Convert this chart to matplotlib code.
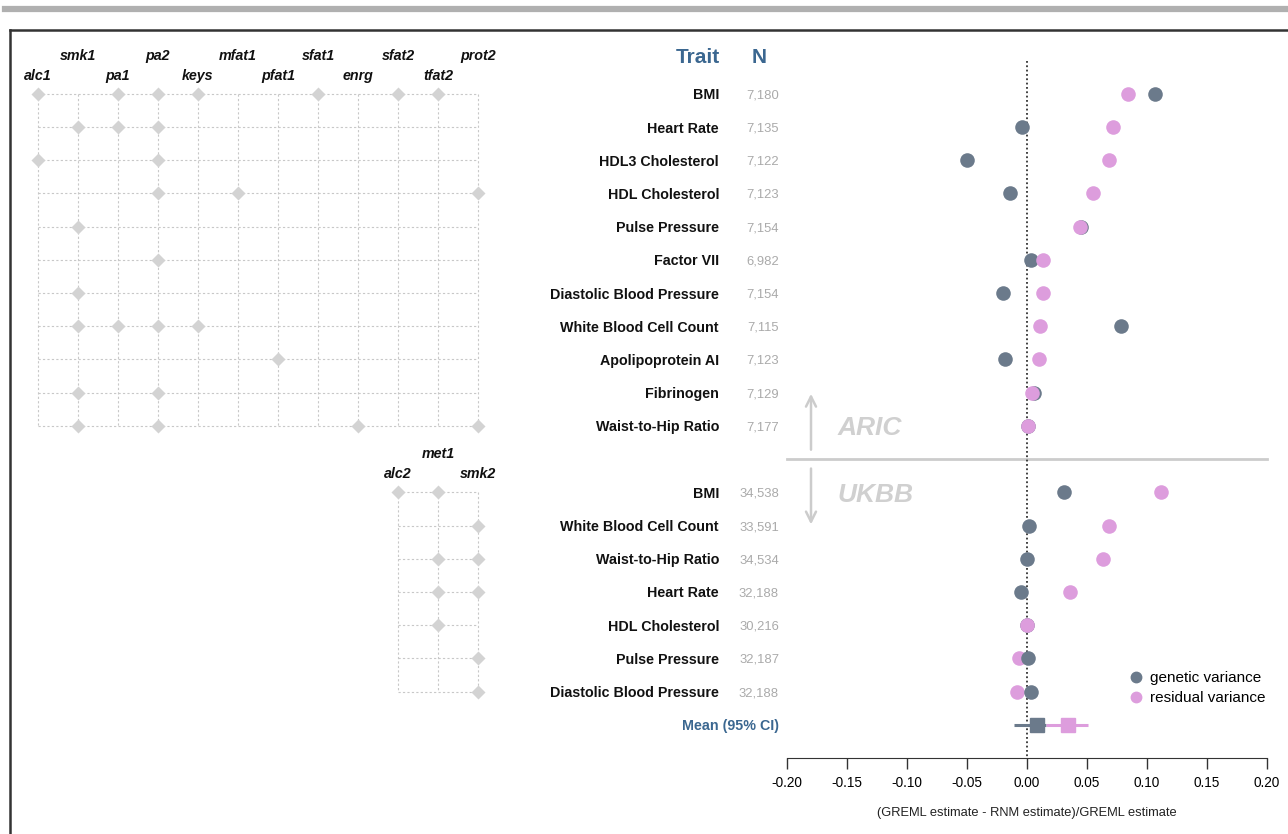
import matplotlib.pyplot as plt
import numpy as np
from matplotlib.lines import Line2D
from matplotlib.transforms import blended_transform_factory
import matplotlib.ticker as mticker

plt.rcParams['font.family'] = ['Liberation Sans', 'DejaVu Sans']
plt.rcParams['axes.unicode_minus'] = False

# ARIC cohort
aric_traits = ['BMI', 'Heart Rate', 'HDL3 Cholesterol', 'HDL Cholesterol', 'Pulse Pressure',
               'Factor VII', 'Diastolic Blood Pressure', 'White Blood Cell Count',
               'Apolipoprotein AI', 'Fibrinogen', 'Waist-to-Hip Ratio']
aric_n = ['7,180', '7,135', '7,122', '7,123', '7,154', '6,982', '7,154', '7,115', '7,123', '7,129', '7,177']
aric_gen = [0.107, -0.004, -0.050, -0.014, 0.045, 0.003, -0.020, 0.078, -0.018, 0.006, 0.001]
aric_res = [0.084, 0.072, 0.068, 0.055, 0.044, 0.013, 0.013, 0.011, 0.010, 0.004, 0.001]

# UKBB cohort
ukbb_traits = ['BMI', 'White Blood Cell Count', 'Waist-to-Hip Ratio', 'Heart Rate',
               'HDL Cholesterol', 'Pulse Pressure', 'Diastolic Blood Pressure']
ukbb_n = ['34,538', '33,591', '34,534', '32,188', '30,216', '32,187', '32,188']
ukbb_gen = [0.031, 0.002, 0.000, -0.005, 0.000, 0.001, 0.003]
ukbb_res = [0.112, 0.068, 0.063, 0.036, 0.000, -0.007, -0.008]
ukbb_res_top = [False, False, False, False, True, False, False]

# pooled mean and 95% CI
mean_gen, mean_gen_ci = 0.008, (-0.011, 0.016)
mean_res, mean_res_ci = 0.034, (0.016, 0.051)

x_ticks = [-0.20, -0.15, -0.10, -0.05, 0.00, 0.05, 0.10, 0.15, 0.20]

# environment interaction covariates
aric_cols = ['alc1', 'smk1', 'pa1', 'pa2', 'keys', 'mfat1', 'pfat1', 'sfat1', 'enrg', 'sfat2', 'tfat2', 'prot2']
aric_sel = [['alc1', 'pa1', 'pa2', 'keys', 'sfat1', 'sfat2', 'tfat2'],
            ['smk1', 'pa1', 'pa2'],
            ['alc1', 'pa2'],
            ['pa2', 'mfat1', 'prot2'],
            ['smk1'],
            ['pa2'],
            ['smk1'],
            ['smk1', 'pa1', 'pa2', 'keys'],
            ['pfat1'],
            ['smk1', 'pa2'],
            ['smk1', 'pa2', 'enrg', 'prot2']]
ukbb_cols = ['alc2', 'met1', 'smk2']
ukbb_sel = [['alc2', 'met1'], ['smk2'], ['met1', 'smk2'], ['met1', 'smk2'],
            ['met1'], ['smk2'], ['smk2']]

gen_col = '#6b7a8b'
res_col = '#dd9ddd'
blue = '#3b6790'
light = '#d3d3d3'

W, H = 1288, 834
fig = plt.figure(figsize=(W / 100, H / 100), dpi=100)

aric_y = np.arange(len(aric_traits))
ukbb_y = np.arange(len(ukbb_traits)) + len(aric_traits) + 1
mean_y = ukbb_y[-1] + 1
ylim = (20.0, -1.5)

top_px, bot_px = 44, 758
ax = fig.add_axes([787 / W, 1 - bot_px / H, 480 / W, (bot_px - top_px) / H])
ax.set_xlim(-0.2, 0.2)
ax.set_ylim(*ylim)
for s in ['top', 'left', 'right']:
    ax.spines[s].set_visible(False)
ax.spines['bottom'].set_color('#333333')
ax.set_yticks([])
ax.set_xticks(x_ticks)
ax.xaxis.set_major_formatter(mticker.FuncFormatter(lambda v, p: f'{round(v, 2) + 0.0:.2f}'))
ax.tick_params(axis='x', length=8, width=1, color='#333333', labelsize=9.8, pad=5)
ax.set_xlabel('(GREML estimate - RNM estimate)/GREML estimate', fontsize=9.3, labelpad=12, color='#222222')

ax.plot([0, 0], [-1.0, 20.0], ls=(0, (1, 1.4)), color='#333333', lw=1.3, zorder=1, clip_on=False)

ax.scatter(aric_gen, aric_y, s=110, color=gen_col, zorder=3, clip_on=False, linewidths=0)
ax.scatter(aric_res, aric_y, s=110, color=res_col, zorder=4, clip_on=False, linewidths=0)
ax.scatter(ukbb_gen, ukbb_y, s=110, color=gen_col, zorder=4, clip_on=False, linewidths=0)
for x, y, top in zip(ukbb_res, ukbb_y, ukbb_res_top):
    ax.scatter([x], [y], s=110, color=res_col, zorder=5 if top else 3, clip_on=False, linewidths=0)

ax.plot(mean_gen_ci, [mean_y, mean_y], color=gen_col, lw=2.2, zorder=3, solid_capstyle='butt')
ax.plot(mean_res_ci, [mean_y, mean_y], color=res_col, lw=2.2, zorder=3, solid_capstyle='butt')
ax.plot([mean_gen], [mean_y], 's', ms=10.5, color=gen_col, zorder=4)
ax.plot([mean_res], [mean_y], 's', ms=10.5, color=res_col, zorder=4)

# cohort divider
sep_y = len(aric_traits)
ax.plot([-0.2, 0.2], [sep_y, sep_y], color='#cccccc', lw=2, clip_on=False, zorder=0)
ax.annotate('', xy=(-0.18, sep_y - 2.05), xytext=(-0.18, sep_y - 0.2),
            arrowprops=dict(arrowstyle='->', color='#cccccc', lw=1.8, mutation_scale=18))
ax.annotate('', xy=(-0.18, sep_y + 2.05), xytext=(-0.18, sep_y + 0.2),
            arrowprops=dict(arrowstyle='->', color='#cccccc', lw=1.8, mutation_scale=18))
ax.text(-0.158, sep_y - 1.0, 'ARIC', fontsize=19, fontweight='bold', style='italic',
        color='#d0d0d0', va='center_baseline', ha='left')
ax.text(-0.158, sep_y + 1.0, 'UKBB', fontsize=19, fontweight='bold', style='italic',
        color='#d0d0d0', va='center_baseline', ha='left')

# trait names and sample sizes
tr = blended_transform_factory(fig.transFigure, ax.transData)
for names, ns, ys in [(aric_traits, aric_n, aric_y), (ukbb_traits, ukbb_n, ukbb_y)]:
    for name, n, y in zip(names, ns, ys):
        ax.text(719 / W, y, name, transform=tr, ha='right', va='center_baseline',
                fontsize=10.3, fontweight='bold', color='#111111')
        ax.text(779 / W, y, n, transform=tr, ha='right', va='center_baseline',
                fontsize=9.4, color='#aaaaaa')
ax.text(720 / W, -1.14, 'Trait', transform=tr, ha='right', va='center_baseline',
        fontsize=15, fontweight='bold', color=blue)
ax.text(759 / W, -1.14, 'N', transform=tr, ha='center', va='center_baseline',
        fontsize=15, fontweight='bold', color=blue)
ax.text(779 / W, mean_y, 'Mean (95% CI)', transform=tr, ha='right', va='center_baseline',
        fontsize=10.3, fontweight='bold', color=blue)

handles = [Line2D([], [], marker='o', ls='', ms=7.5, color=gen_col),
           Line2D([], [], marker='o', ls='', ms=7.5, color=res_col)]
fig.legend(handles, ['genetic variance', 'residual variance'], loc='upper right',
           bbox_to_anchor=(1265 / W, 1 - 671 / H), frameon=False, fontsize=11,
           handlelength=0.8, handletextpad=0.5, labelspacing=0.4,
           borderpad=0, borderaxespad=0)

# covariate indicator grid
gax = fig.add_axes([18 / W, 1 - bot_px / H, 480 / W, (bot_px - top_px) / H], sharey=ax)
gax.set_xlim(-0.5, 11.5)
gax.axis('off')
grid_kw = dict(color='#c8c8c8', lw=0.8, ls=(0, (2, 2)), zorder=1)


def draw_grid(cols, sel, ys, col0, upper_y, lower_y):
    xs = np.arange(len(cols)) + col0
    for y in ys:
        gax.plot([xs[0], xs[-1]], [y, y], **grid_kw)
    for x in xs:
        gax.plot([x, x], [ys[0], ys[-1]], **grid_kw)
    for i, (c, x) in enumerate(zip(cols, xs)):
        gax.text(x, lower_y if i % 2 == 0 else upper_y, c, ha='center', va='center_baseline',
                 fontsize=10.3, fontweight='bold', style='italic', color='#111111')
    for y, row in zip(ys, sel):
        px = [xs[cols.index(c)] for c in row]
        gax.plot(px, [y] * len(px), 'D', ms=7.2, color=light, mec='none', zorder=2, clip_on=False)


draw_grid(aric_cols, aric_sel, aric_y, 0, -1.17, -0.57)
draw_grid(ukbb_cols, ukbb_sel, ukbb_y, 9, ukbb_y[0] - 1.2, ukbb_y[0] - 0.6)

# page frame
fig.add_artist(Line2D([5 / W, 1], [1 - 9 / H, 1 - 9 / H], color='#b0b0b0', lw=4.5))
fig.add_artist(Line2D([10 / W, 10 / W], [0, 1 - 30 / H], color='#333333', lw=1.8))
fig.add_artist(Line2D([10 / W, 1], [1 - 30 / H, 1 - 30 / H], color='#333333', lw=1.8))

fig.savefig('out.png', dpi=100)
